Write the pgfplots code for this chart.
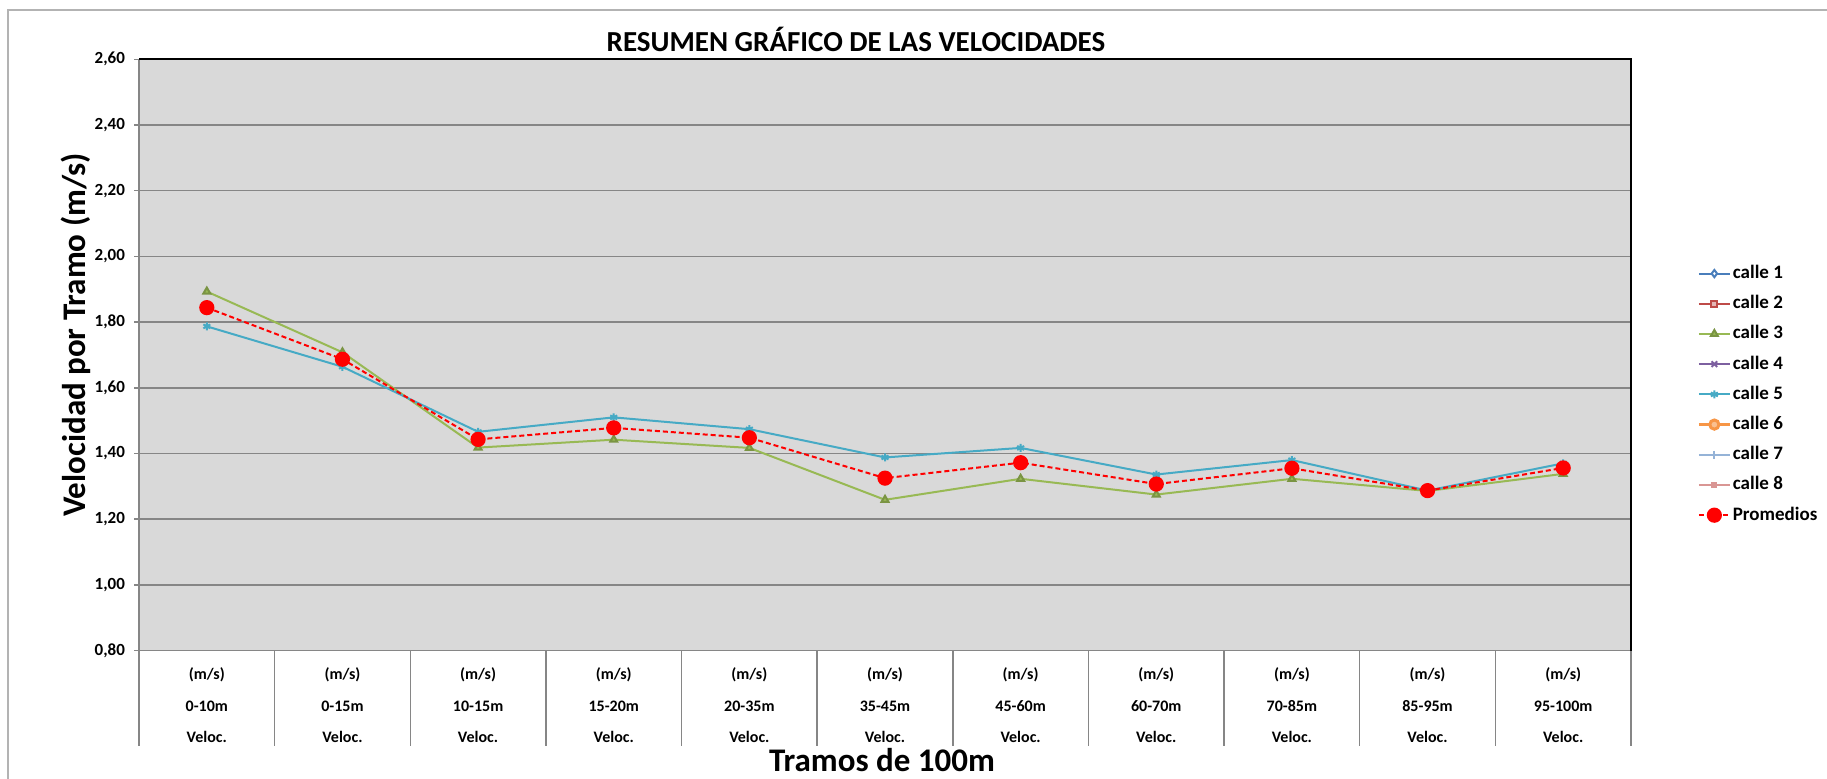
\documentclass[border=0pt]{standalone}
\usepackage{fontspec}
\setmainfont{Carlito}
\usepackage{pgfplots}
\pgfplotsset{compat=1.18}

\definecolor{plotbg}{HTML}{D9D9D9}
\definecolor{gridgray}{HTML}{868686}
\definecolor{framegray}{HTML}{B3B3B3}
\definecolor{c1}{HTML}{4A7EBB}
\definecolor{c2}{HTML}{BE4B48}
\definecolor{c3}{HTML}{98B954}
\definecolor{c4}{HTML}{7D60A0}
\definecolor{c5}{HTML}{46AAC5}
\definecolor{c6}{HTML}{F79646}
\definecolor{c7}{HTML}{95B3D7}
\definecolor{c8}{HTML}{D99694}

\begin{document}
\begin{tikzpicture}
\useasboundingbox (0,0) rectangle (913.5pt,-389.5pt);
% outer chart frame (top and left edges only are inside the picture)
\draw[framegray, line width=1pt] (913.5pt,-5pt) -- (4pt,-5pt) -- (4pt,-389.5pt);

\begin{axis}[
    at={(69.5pt,-325.3pt)}, anchor=south west,
    scale only axis,
    width=746pt, height=295.65pt,
    xmin=-0.5, xmax=10.5,
    ymin=0.8, ymax=2.6,
    ytick={0.8,1.0,1.2,1.4,1.6,1.8,2.0,2.2,2.4,2.6},
    yticklabel style={font=\bfseries\fontsize{8.5}{10}\selectfont, xshift=-1pt,
        /pgf/number format/fixed, /pgf/number format/fixed zerofill,
        /pgf/number format/precision=2, /pgf/number format/use comma,
        /pgf/number format/assume math mode=true},
    xtick={0,1,2,3,4,5,6,7,8,9,10},
    xticklabels={
        {(m/s)\\0-10m\\Veloc.},
        {(m/s)\\0-15m\\Veloc.},
        {(m/s)\\10-15m\\Veloc.},
        {(m/s)\\15-20m\\Veloc.},
        {(m/s)\\20-35m\\Veloc.},
        {(m/s)\\35-45m\\Veloc.},
        {(m/s)\\45-60m\\Veloc.},
        {(m/s)\\60-70m\\Veloc.},
        {(m/s)\\70-85m\\Veloc.},
        {(m/s)\\85-95m\\Veloc.},
        {(m/s)\\95-100m\\Veloc.}},
    xticklabel style={align=center, anchor=north, inner sep=0pt, yshift=-6pt,
        font=\bfseries\fontsize{8}{15.75}\selectfont},
    minor xtick={-0.5,0.5,1.5,2.5,3.5,4.5,5.5,6.5,7.5,8.5,9.5,10.5},
    major x tick style={draw=none},
    minor x tick style={gridgray, line width=0.75pt},
    minor tick length=47.5pt,
    major tick length=2.5pt,
    tick align=outside,
    xtick pos=bottom, ytick pos=left,
    y tick style={gridgray, line width=0.75pt},
    ymajorgrids,
    grid style={gridgray, line width=0.75pt},
    axis lines*=left,
    axis line style={gridgray, line width=0.75pt},
    axis background/.style={fill=plotbg},
    clip=false,
    legend cell align=left,
    legend image code/.code={
        \draw[mark repeat=2, mark phase=2] plot coordinates {(0pt,0pt) (7.75pt,0pt) (15.5pt,0pt)};},
    legend style={draw=none, fill=none, inner sep=0pt,
        at={(axis description cs:1.0442,0.4333)}, anchor=west,
        font=\bfseries\fontsize{9.5}{11}\selectfont,
        row sep=4.6pt,
        nodes={inner sep=0.75pt, text height=7pt, text depth=2pt}},
]

\addlegendimage{c1, line width=1pt, mark=diamond*, mark size=1.8pt, mark options={fill=white, solid}}
\addlegendentry{calle 1}
\addlegendimage{c2, line width=1pt, mark=square*, mark size=1.5pt, mark options={fill=c2!40, solid}}
\addlegendentry{calle 2}

% calle 3
\addplot[c3, line width=1pt, mark=triangle*, mark size=2pt,
    mark options={fill=c3, draw=c3!80!black, solid}] coordinates {
    (0,1.893) (1,1.708) (2,1.418) (3,1.442) (4,1.417) (5,1.259)
    (6,1.323) (7,1.275) (8,1.323) (9,1.286) (10,1.338)
};
\addlegendentry{calle 3}

\addlegendimage{c4, line width=1pt, mark=x, mark size=2pt, mark options={solid}}
\addlegendentry{calle 4}

% calle 5
\addplot[c5, line width=1pt, mark=asterisk, mark size=2pt, mark options={solid}] coordinates {
    (0,1.787) (1,1.664) (2,1.466) (3,1.510) (4,1.474) (5,1.388)
    (6,1.417) (7,1.336) (8,1.380) (9,1.287) (10,1.370)
};
\addlegendentry{calle 5}

\addlegendimage{c6, line width=1.5pt, mark=*, mark size=2.3pt, mark options={fill=c6!60, solid}}
\addlegendentry{calle 6}
\addlegendimage{c7, line width=1pt, mark=+, mark size=2pt, mark options={solid}}
\addlegendentry{calle 7}
\addlegendimage{c8, line width=1pt, mark=square*, mark size=1pt, mark options={solid}}
\addlegendentry{calle 8}

% promedios
\addplot[red, line width=1pt, dash pattern=on 2.5pt off 1.5pt, mark=*, mark size=3.3pt,
    mark options={fill=red, draw=red, solid}] coordinates {
    (0,1.844) (1,1.687) (2,1.443) (3,1.478) (4,1.448) (5,1.325)
    (6,1.372) (7,1.307) (8,1.355) (9,1.287) (10,1.356)
};
\addlegendentry{Promedios}

\draw[black, line width=1pt] (rel axis cs:0,1) -- (rel axis cs:1,1) -- (rel axis cs:1,0);
\end{axis}

\node[font=\bfseries\fontsize{14.5}{17}\selectfont] at (428pt,-19.5pt) {RESUMEN GRÁFICO DE LAS VELOCIDADES};
\node[font=\bfseries\fontsize{16.5}{20}\selectfont, rotate=90] at (38pt,-167.5pt) {Velocidad por Tramo (m/s)};
\node[font=\bfseries\fontsize{16.5}{20}\selectfont] at (441pt,-380pt) {Tramos de 100m};
\end{tikzpicture}
\end{document}
